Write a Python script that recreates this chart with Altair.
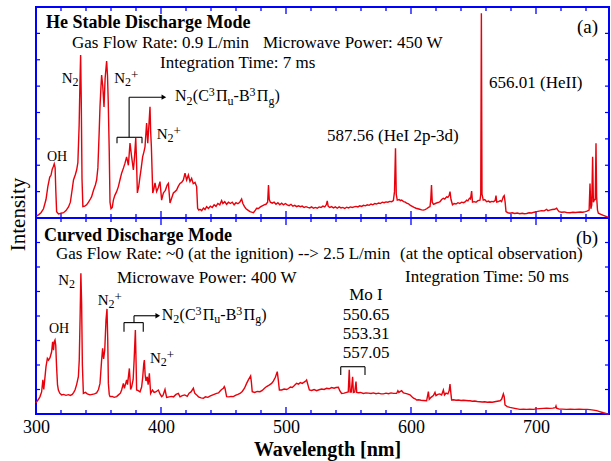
import altair as alt
import pandas as pd

FONT = "Liberation Serif"
RED = "#e8000b"
BLUE = "#0000ff"

# ---------------- data ----------------
X_DOMAIN = [300, 758.4]
MAJOR_TICKS = [400, 500, 600, 700]
MINOR_TICKS = [320, 340, 360, 380, 420, 440, 460, 480, 520, 540, 560, 580,
               620, 640, 660, 680, 720, 740]
LABEL_TICKS = [300, 400, 500, 600, 700]
Y_TICKS = [1, 2, 3, 4, 5, 6, 7]

# (a) He stable discharge: (wavelength nm, intensity a.u.)
SPEC_A = [
    (300.5, 0.08), (302, 0.12), (304, 0.2), (306, 0.35), (308, 0.7), (309.5, 1.2), (311, 1.55),
    (312, 1.62), (313, 1.85), (313.9, 1.95), (314.6, 2.05), (315.3, 1.9), (315.8, 1.1),
    (316.5, 0.24), (318, 0.15), (320, 0.18), (322, 0.2), (324, 0.28), (326, 0.42), (327.5, 0.6),
    (329, 1.1), (330, 1.44), (331.5, 1.65), (332.5, 1.82), (333.5, 2.1), (334.5, 3.5),
    (335.2, 5.2), (335.7, 6.18), (336.2, 4.5), (336.8, 1.5), (337.5, 0.43), (339, 0.45),
    (340.5, 0.5), (342, 0.6), (343.5, 0.72), (344.5, 0.81), (346, 1.05), (347.5, 1.25),
    (348.5, 1.44), (349.5, 1.9), (350.5, 3.2), (351.2, 4.22), (352, 5.0), (352.5, 5.42),
    (353.4, 5.0), (354.4, 4.21), (355.3, 5.3), (356.5, 5.95), (357.2, 5.4), (357.8, 4.4),
    (358.6, 2.5), (359.2, 0.6), (360, 0.35), (361, 0.4), (361.9, 0.68), (363, 0.85),
    (364.5, 1.0), (365.9, 1.19), (367.2, 1.45), (368.5, 1.7), (370, 1.9), (371.2, 2.08),
    (372.5, 2.32), (373.9, 2.0), (375.2, 2.84), (376.5, 2.32), (377.9, 1.82), (378.8, 2.3),
    (379.8, 3.03), (380.4, 2.2), (381.1, 0.95), (382.2, 1.2), (383.2, 1.57), (384.2, 1.9),
    (385.3, 2.32), (386.3, 2.5), (387.2, 2.7), (388.5, 3.6), (389.4, 2.84), (390.3, 3.5),
    (391.2, 4.22), (391.7, 3.3), (392.3, 2.7), (393.4, 0.95), (394.3, 1.1), (395.2, 1.33),
    (396.5, 1.0), (397.8, 1.15), (399.2, 1.38), (400.5, 0.68), (401.9, 0.95), (403.5, 1.05),
    (404.9, 1.25), (405.9, 1.31), (407.2, 0.57), (408.5, 0.75), (409.9, 0.95), (411.2, 1.0),
    (412.5, 1.06), (413.8, 1.2), (415.2, 1.31), (416.5, 1.35), (417.9, 1.44), (419.2, 1.7),
    (420.5, 1.44), (421.9, 1.63), (423.2, 1.38), (424.5, 1.5), (425.8, 1.3), (427.2, 1.35),
    (428.5, 1.19), (429.3, 0.37), (430.2, 0.3), (431.2, 0.33), (432.5, 0.28), (434, 0.38),
    (435.2, 0.32), (436.5, 0.43), (438, 0.36), (439.5, 0.45), (441, 0.4), (442.5, 0.5),
    (444, 0.44), (445.5, 0.55), (447, 0.5), (448.5, 0.66), (449.5, 0.55), (451, 0.62),
    (452.5, 0.52), (454, 0.6), (455.5, 0.55), (457, 0.6), (458.5, 0.5), (460, 0.58),
    (461.5, 0.54), (463, 0.6), (464.5, 0.72), (465.5, 0.55), (466.8, 0.43), (468, 0.35),
    (469.5, 0.3), (471.2, 0.24), (472.5, 0.22), (474, 0.2), (475.5, 0.3), (476.5, 0.37),
    (478, 0.36), (479.5, 0.42), (481, 0.46), (482.5, 0.5), (484, 0.52), (485.3, 0.6),
    (486, 1.25), (486.6, 0.7), (487.5, 0.6), (489, 0.56), (490.5, 0.6), (492, 0.52),
    (493.5, 0.58), (495, 0.5), (496.5, 0.56), (498, 0.5), (499.5, 0.55), (501, 0.5),
    (502.5, 0.47), (504, 0.52), (505.5, 0.45), (507, 0.48), (508.5, 0.43), (510, 0.46),
    (511.5, 0.43), (513, 0.45), (514.5, 0.4), (516, 0.43), (517.5, 0.4), (519, 0.38),
    (520.5, 0.42), (522, 0.37), (523.5, 0.4), (525, 0.37), (526.5, 0.42), (528, 0.4),
    (529.5, 0.45), (531, 0.42), (532.2, 0.5), (533, 0.65), (533.7, 0.45), (535, 0.4),
    (536.5, 0.43), (538, 0.38), (539.5, 0.42), (541, 0.37), (542.5, 0.42), (544, 0.38),
    (545.5, 0.4), (547, 0.36), (548.5, 0.41), (550, 0.38), (551.5, 0.42), (553, 0.4),
    (554.5, 0.42), (556, 0.44), (557.5, 0.42), (559, 0.46), (560.5, 0.44), (562, 0.48),
    (563.5, 0.46), (565, 0.5), (566.5, 0.48), (568, 0.53), (569.5, 0.5), (571, 0.55),
    (572.5, 0.53), (574, 0.57), (575.5, 0.55), (577, 0.6), (578.5, 0.58), (580, 0.61),
    (581.5, 0.6), (583, 0.63), (584.5, 0.62), (585.9, 0.66), (586.8, 1.0), (587.6, 2.64),
    (588.2, 0.9), (589, 0.68), (590.5, 0.7), (591.5, 0.66), (592.5, 0.68), (594, 0.62),
    (595.5, 0.6), (596.5, 0.56), (598, 0.54), (599.5, 0.48), (601, 0.44), (602.5, 0.4),
    (604, 0.37), (605.5, 0.35), (607, 0.33), (608.5, 0.31), (609.9, 0.3), (611.2, 0.32),
    (612.5, 0.35), (614, 0.4), (615.2, 0.43), (615.8, 0.7), (616.4, 1.25), (617, 0.6),
    (618, 0.52), (619.5, 0.55), (621, 0.58), (622.5, 0.6), (623.2, 0.62), (624.5, 0.7),
    (625.9, 0.75), (627, 0.72), (628.5, 0.8), (629.5, 0.78), (630.5, 0.85), (631.2, 1.0),
    (632, 0.7), (633.2, 0.5), (634.5, 0.55), (636, 0.53), (637.5, 0.58), (639, 0.55),
    (640.5, 0.6), (642, 0.58), (643.5, 0.62), (644.5, 0.68), (645.5, 0.65), (646.8, 0.75),
    (647.6, 0.72), (648.5, 1.02), (649.2, 0.6), (650.5, 0.62), (652, 0.6), (653.5, 0.66),
    (655.2, 0.68), (655.8, 0.9), (656.3, 7.76), (656.8, 0.9), (657.8, 0.68), (659, 0.7),
    (660.5, 0.62), (662, 0.64), (663.2, 0.6), (664.5, 0.63), (666, 0.62), (667.3, 0.66),
    (668, 0.85), (668.6, 0.6), (670, 0.62), (671.5, 0.66), (672.5, 0.62), (673.9, 0.81),
    (674.6, 0.85), (675.3, 0.6), (676, 0.24), (677.5, 0.2), (679.2, 0.18), (681, 0.2),
    (683, 0.17), (685, 0.19), (687, 0.16), (689, 0.18), (690.5, 0.16), (692.5, 0.17),
    (694.5, 0.2), (696.5, 0.19), (698.5, 0.22), (700.5, 0.24), (702.5, 0.26), (704.5, 0.28),
    (706.5, 0.27), (708.5, 0.33), (709.5, 0.28), (711, 0.3), (713, 0.32), (715, 0.33),
    (716.5, 0.37), (717.5, 0.3), (718.5, 0.24), (720.5, 0.22), (722.5, 0.23), (724.5, 0.21),
    (727.2, 0.2), (729.5, 0.22), (731.5, 0.21), (733.5, 0.22), (735.5, 0.23), (737.5, 0.22),
    (739.5, 0.24), (740.8, 0.26), (742.5, 0.3), (743.2, 1.31), (743.9, 0.35), (744.6, 0.5),
    (745.3, 2.32), (745.9, 0.6), (746.8, 0.7), (747.4, 0.7), (748.0, 2.83), (748.5, 0.8),
    (749.2, 0.3), (749.9, 0.18), (751.5, 0.15), (753.9, 0.1), (756.5, 0.05), (758, 0.03),
]

# (b) curved discharge
SPEC_B = [
    (300, 0.45), (300.5, 0.5), (302, 0.6), (303.2, 0.71), (304.5, 0.9), (305.5, 1.4),
    (306.2, 1.0), (306.8, 1.3), (308, 1.93), (309.1, 2.27), (310, 2.2), (311.2, 2.3),
    (312.5, 2.54), (313.3, 2.95), (314, 2.6), (314.6, 2.95), (315.2, 3.02), (315.8, 2.8),
    (316.4, 2.0), (317.2, 1.2), (317.9, 0.98), (319, 0.85), (320.5, 0.78), (322, 0.8),
    (324, 0.76), (326, 0.79), (327.5, 0.76), (329, 0.8), (330.2, 0.88), (331.2, 0.98),
    (332.5, 1.2), (333.9, 1.52), (334.6, 2.2), (335.3, 4.0), (335.9, 5.74), (336.5, 4.5),
    (337.1, 2.0), (337.9, 0.84), (339.5, 0.88), (341, 0.82), (343.2, 0.78), (345, 0.8),
    (346.8, 0.82), (348.5, 0.86), (350, 1.0), (351.2, 1.25), (352.5, 2.2), (353.3, 2.68),
    (354.1, 2.25), (355, 2.6), (356, 3.84), (356.8, 4.29), (357.4, 3.0), (357.9, 1.25),
    (358.6, 0.8), (359.2, 0.71), (361, 0.72), (362.5, 0.68), (364.5, 0.71), (366, 0.78),
    (367.5, 0.85), (368.5, 0.98), (369.9, 1.25), (370.7, 1.05), (371.5, 1.2), (372.5, 1.39),
    (373.2, 1.2), (374.7, 1.86), (375.7, 1.0), (376.5, 1.1), (377.7, 1.4), (378.5, 2.2),
    (379.5, 3.43), (380.1, 2.0), (380.5, 0.98), (381.8, 0.95), (383.2, 0.9), (384.5, 1.1),
    (385.4, 1.52), (386.2, 2.05), (386.7, 2.2), (387.3, 1.6), (388, 1.35), (389, 1.52),
    (389.7, 1.2), (390.7, 1.66), (391.7, 0.84), (393.2, 0.98), (394.5, 0.88), (395.8, 0.9),
    (397.9, 0.98), (399.2, 0.82), (400.5, 0.71), (401.5, 0.75), (403.2, 1.0), (404.5, 0.68),
    (406.5, 0.7), (408.5, 0.72), (410, 0.7), (412, 0.8), (413.9, 0.84), (415.2, 0.7),
    (417, 0.75), (419, 0.78), (421, 0.72), (422.5, 0.85), (424, 0.9), (425.9, 1.05),
    (427, 0.85), (428.5, 0.78), (430, 0.7), (432, 0.66), (433.9, 0.64), (435.5, 0.7),
    (437.5, 0.68), (439.5, 0.74), (441.5, 0.78), (442.5, 0.8), (444.5, 0.84), (446, 0.86),
    (447.5, 0.95), (448.5, 1.0), (449.9, 1.05), (450.6, 1.12), (451.2, 1.05), (452.5, 0.71),
    (454.5, 0.7), (456, 0.72), (457.9, 0.71), (459.5, 0.76), (461.5, 0.8), (463.2, 0.84),
    (465, 0.92), (466.8, 1.05), (468.5, 1.25), (470, 1.4), (471.7, 1.55), (472.3, 1.3),
    (473, 0.91), (475, 0.88), (477, 0.92), (479.2, 0.91), (481, 0.96), (482.8, 1.05),
    (484.5, 1.12), (486.5, 1.18), (488.5, 1.25), (490, 1.35), (491.5, 1.5), (493, 1.73),
    (493.8, 1.4), (494.7, 0.98), (496.5, 0.98), (498.5, 1.02), (500.5, 1.0), (502, 1.04),
    (503.5, 1.1), (505, 1.08), (506.5, 1.15), (508.5, 1.25), (510, 1.22), (511.5, 1.28),
    (513, 1.25), (514.5, 1.3), (516, 1.36), (516.5, 1.39), (517.5, 1.2), (518.7, 0.98),
    (520.5, 0.96), (522.5, 1.0), (524.5, 0.95), (526.5, 0.99), (528.5, 1.02), (530.5, 1.0),
    (532.5, 1.05), (534.5, 1.03), (536.5, 1.08), (538.5, 1.05), (540, 1.08), (541.9, 1.09),
    (543, 0.95), (544.5, 0.84), (546.5, 0.85), (548.5, 0.88), (549.8, 0.9), (550.6, 1.8),
    (551.3, 0.9), (552.2, 0.9), (553.3, 1.52), (553.9, 0.88), (555, 0.9), (556, 1.32),
    (556.6, 0.88), (558, 0.87), (559.5, 0.88), (561.9, 0.84), (564, 0.86), (566, 0.85),
    (568, 0.84), (569.9, 0.86), (572, 0.83), (574, 0.85), (576, 0.82), (577.9, 0.82),
    (580, 0.85), (582, 0.83), (584, 0.86), (586, 0.84), (588.5, 0.84), (589.5, 0.95),
    (590.3, 0.88), (591.2, 0.91), (592.5, 0.95), (594, 0.86), (595.5, 0.84), (597, 0.82),
    (599.2, 0.78), (600.5, 0.71), (602, 0.65), (603.3, 0.62), (604.5, 0.57), (606, 0.58),
    (608, 0.56), (610, 0.55), (612.5, 0.54), (613.9, 0.91), (614.6, 0.6), (616, 0.68),
    (617.9, 0.75), (619.2, 0.88), (620, 0.75), (621.5, 0.8), (623, 0.82), (624.5, 0.78),
    (625.9, 0.98), (626.8, 0.78), (628, 0.85), (629.5, 0.82), (630.5, 0.95), (631.2, 1.22),
    (632, 0.8), (632.5, 0.57), (634, 0.58), (636, 0.56), (638, 0.57), (640, 0.55),
    (642, 0.56), (644, 0.55), (646, 0.54), (647.2, 0.54), (649, 0.52), (651, 0.53),
    (653, 0.51), (655.2, 0.5), (657, 0.49), (659, 0.5), (661, 0.48), (663, 0.49),
    (665, 0.48), (667, 0.5), (669, 0.52), (671.2, 0.54), (672.5, 0.6), (673.9, 0.82),
    (674.6, 0.7), (675.2, 0.37), (677, 0.3), (679.2, 0.27), (681, 0.25), (683, 0.23),
    (685, 0.21), (687.2, 0.19), (690, 0.2), (692.5, 0.19), (695, 0.2), (697.9, 0.19),
    (700.5, 0.21), (703, 0.22), (705.9, 0.23), (708.5, 0.24), (711, 0.23), (713.5, 0.24),
    (715.5, 0.26), (716, 0.33), (716.5, 0.24), (718.5, 0.2), (721, 0.2), (724.5, 0.19),
    (727.5, 0.2), (731, 0.19), (734.5, 0.2), (738, 0.19), (741, 0.19), (743.2, 0.18),
    (746, 0.16), (748.5, 0.14), (751, 0.1), (753.9, 0.05), (756.5, 0.01), (758, 0.0),
]

# Plain text annotations: (text, wavelength, intensity, font size)
TEXT_A = [
    ("Gas Flow Rate: 0.9 L/min", 328.8, 6.43, 17),
    ("Microwave Power: 450 W", 481.6, 6.43, 17),
    ("Integration Time: 7 ms", 399.2, 5.68, 17),
    ("(a)", 732.8, 7.0, 19),
    ("656.01 (HeII)", 662.4, 4.92, 17),
    ("587.56 (HeI 2p-3d)", 532.8, 2.92, 17),
    ("OH", 308.8, 2.17, 14),
]
TITLE_A = [("He Stable Discharge Mode", 308.0, 7.2, 18)]
TEXT_B = [
    ("Gas Flow Rate: ~0 (at the ignition) --> 2.5 L/min", 316.0, 6.31, 17),
    ("(at the optical observation)", 591.2, 6.31, 17),
    ("Microwave Power: 400 W", 364.8, 5.33, 17),
    ("Integration Time: 50 ms", 595.2, 5.4, 17),
    ("(b)", 732.0, 6.94, 19),
    ("OH", 310.4, 3.31, 14),
]
TITLE_B = [("Curved Discharge Mode", 306.4, 7.07, 18)]
MO_LINES = [("Mo I", 564.0, 4.65), ("550.65", 564.0, 3.84), ("553.31", 564.0, 3.06),
            ("557.05", 564.0, 2.29)]

# Molecular band labels (kind, wavelength, intensity)
MOL_A = [("N2", 320.6, 5.13), ("N2+", 362.6, 5.12), ("N2C", 411.2, 4.43), ("N2+", 396.6, 3.0)]
MOL_B = [("N2", 317.8, 5.27), ("N2+", 349.4, 4.45), ("N2C", 400.6, 3.84), ("N2+", 391.2, 2.07)]

# Bracket / arrow segments: (wl1, wl2, I1, I2)
SEG_A = [(364.8, 384.8, 3.06, 3.06), (364.8, 364.8, 3.06, 2.83), (384.8, 384.8, 3.06, 2.83),
         (374.5, 374.5, 3.06, 4.58), (374.5, 402.0, 4.58, 4.58)]
SEG_B = [(370.4, 385.8, 3.73, 3.73), (370.4, 370.4, 3.73, 3.36), (385.8, 385.8, 3.73, 3.36),
         (378.4, 378.4, 3.73, 4.01), (378.4, 397.0, 4.01, 4.01),
         (543.8, 563.2, 1.93, 1.93), (543.8, 543.8, 1.93, 1.59), (563.2, 563.2, 1.93, 1.59)]
ARROW_A = [(402.3, 4.58)]
ARROW_B = [(397.4, 4.01)]

# ---------------- geometry ----------------
W = 573
HA = 211
HB = 196
H = HA + HB
PX_NM = W / (X_DOMAIN[1] - X_DOMAIN[0])
PPU_A = HA / 8
PPU_B = HB / 8

# piece layouts for labels with sub/superscripts: (text, dx px, dy px, size)
PIECES = {
    "N2": [("N", 0, 0, 15), ("2", 10.8, 3, 12)],
    "N2+": [("N", 0, 0, 15), ("2", 10.8, 3, 12), ("+", 16.8, -4, 13)],
    "N2C": [("N", 0, 0, 16), ("2", 11.6, 3.5, 12), ("(C", 17.8, 0, 16), ("3", 33.8, -5, 12),
            ("Π", 41.0, 0, 16), ("u", 52.6, 3.5, 12), ("-B", 58.6, 0, 16), ("3", 74.6, -5, 12),
            ("Π", 81.8, 0, 16), ("g", 93.4, 3.5, 12), (")", 99.6, 0, 16)],
}


def mol_rows(labels, ppu):
    rows = []
    for kind, wl, inten in labels:
        for t, dx, dy, fs in PIECES[kind]:
            rows.append((t, wl + dx / PX_NM, inten - dy / ppu, fs))
    return rows


X_SCALE = alt.Scale(domain=X_DOMAIN, nice=False, zero=False)
X_AXIS = alt.Axis(values=LABEL_TICKS, title="Wavelength [nm]", ticks=False, domain=False,
                  grid=False, labelFont=FONT, labelFontSize=18, labelColor="black",
                  labelPadding=4, labelFlush=False, format="d", titleFont=FONT,
                  titleFontSize=20, titleFontWeight="bold", titleColor="black",
                  titlePadding=3, titleX=291)
YA = alt.Scale(domain=[0, 8], range=[HA, 0], nice=False, zero=False)
YB = alt.Scale(domain=[0, 8], range=[H, HA], nice=False, zero=False)


def X(field):
    return alt.X(field, type="quantitative", scale=X_SCALE, axis=X_AXIS)


def Y(field, sc):
    return alt.Y(field, type="quantitative", scale=sc, axis=None)


one = pd.DataFrame({"d": [0]})
layers = []

# frames
for y0, y1 in [(0, HA), (HA, H)]:
    layers.append(alt.Chart(one).mark_rect(fillOpacity=0, stroke=BLUE, strokeWidth=2).encode(
        x=alt.value(0), x2=alt.value(W), y=alt.value(y0), y2=alt.value(y1)))

# x ticks
tick_sets = [(MINOR_TICKS, 4), (MAJOR_TICKS, 7)]
for vals, ln in tick_sets:
    df = pd.DataFrame({"v": vals})
    for y0, sgn in [(0, 1), (HA, -1), (HA, 1), (H, -1)]:
        layers.append(alt.Chart(df).mark_rule(color=BLUE, strokeWidth=1.3).encode(
            x=X("v"), y=alt.value(y0), y2=alt.value(y0 + sgn * ln)))

# y ticks
yt = pd.DataFrame({"v": Y_TICKS})
for sc in (YA, YB):
    layers.append(alt.Chart(yt).mark_rule(color=BLUE, strokeWidth=1.2).encode(
        y=Y("v", sc), x=alt.value(0), x2=alt.value(4)))
    layers.append(alt.Chart(yt).mark_rule(color=BLUE, strokeWidth=1.2).encode(
        y=Y("v", sc), x=alt.value(W - 4), x2=alt.value(W)))

# spectra
dfa = pd.DataFrame(SPEC_A, columns=["wl", "I"])
dfb = pd.DataFrame(SPEC_B, columns=["wl", "I"])
layers.append(alt.Chart(dfa).mark_line(color=RED, strokeWidth=1.4).encode(x=X("wl"), y=Y("I", YA)))
layers.append(alt.Chart(dfb).mark_line(color=RED, strokeWidth=1.4).encode(x=X("wl"), y=Y("I", YB)))

# brackets & arrows
for segs, sc in ((SEG_A, YA), (SEG_B, YB)):
    df = pd.DataFrame(segs, columns=["x1", "x2", "y1", "y2"])
    layers.append(alt.Chart(df).mark_rule(color="black", strokeWidth=1.1).encode(
        x=X("x1"), x2="x2:Q", y=Y("y1", sc), y2="y2:Q"))
for arr, sc in ((ARROW_A, YA), (ARROW_B, YB)):
    df = pd.DataFrame(arr, columns=["wl", "I"])
    layers.append(alt.Chart(df).mark_point(shape="triangle-right", filled=True, color="black",
                                           opacity=1, size=28).encode(x=X("wl"), y=Y("I", sc)))


def text_layer(rows, sc, bold=False, align="left"):
    df = pd.DataFrame(rows, columns=["t", "wl", "I", "fs"])
    return alt.Chart(df).mark_text(font=FONT, align=align, baseline="alphabetic", color="black",
                                   fontWeight="bold" if bold else "normal").encode(
        x=X("wl"), y=Y("I", sc), text="t:N", size=alt.Size("fs:Q", scale=None))


layers.append(text_layer(TEXT_A, YA))
layers.append(text_layer(TITLE_A, YA, bold=True))
layers.append(text_layer(TEXT_B, YB))
layers.append(text_layer(TITLE_B, YB, bold=True))
layers.append(text_layer([(t, w, i, 17) for t, w, i in MO_LINES], YB, align="center"))
layers.append(text_layer(mol_rows(MOL_A, PPU_A), YA))
layers.append(text_layer(mol_rows(MOL_B, PPU_B), YB))

# y title
layers.append(alt.Chart(pd.DataFrame({"t": ["Intensity"]})).mark_text(
    font=FONT, fontSize=21, angle=270, align="center", baseline="alphabetic", color="black").encode(
    x=alt.value(-11), y=alt.value(207.5), text="t:N"))

chart = alt.layer(*layers).resolve_scale(y="independent").properties(
    width=W, height=H,
    padding={"left": 36, "top": 7, "right": 2, "bottom": 47},
    autosize=alt.AutoSizeParams(type="none"),
    background="white",
).configure_view(stroke=None)

chart.save("out.html", embed_options={"renderer": "svg", "actions": False})
